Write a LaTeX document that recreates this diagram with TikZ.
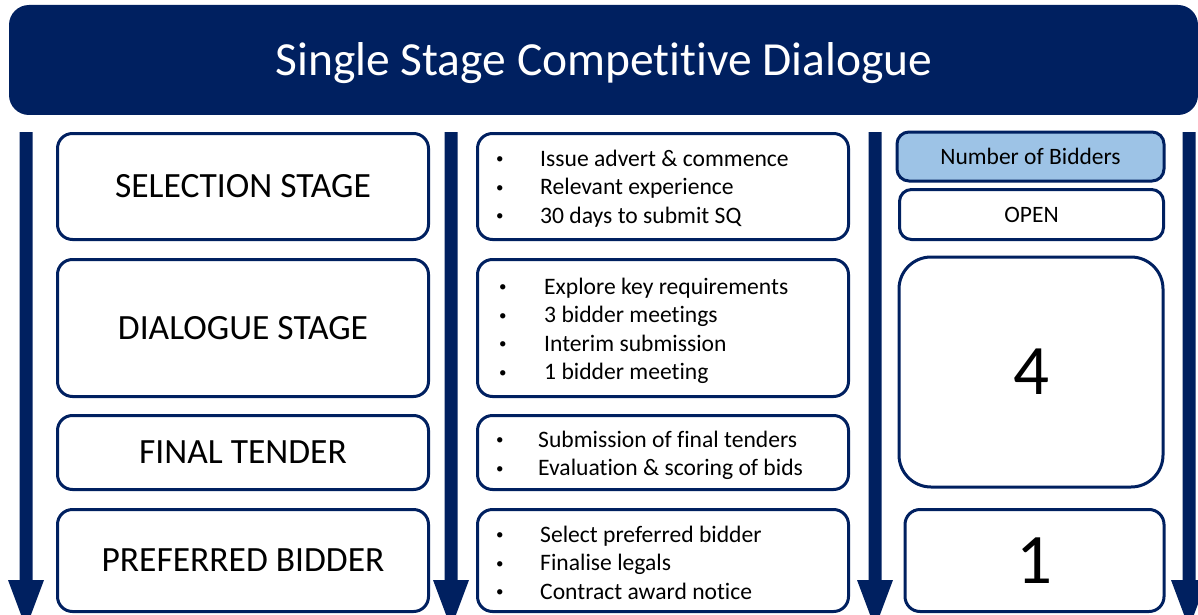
\documentclass[tikz,border=0pt]{standalone}
\usepackage{fontspec}
\setmainfont{Carlito}[Ligatures=NoCommon]
\usetikzlibrary{arrows.meta}
\definecolor{navy}{HTML}{002060}
\definecolor{paleblue}{HTML}{9DC3E6}

% small list bullet
\newcommand{\dotmark}{\raisebox{2.5pt}{\fontsize{15}{15}\selectfont •}}
% bullet list: first column holds the bullet, second the text
\newcommand{\bulletlist}[2]{%
  \fontsize{23.6}{28.5}\selectfont
  \begin{tabular}{@{}p{#1pt}@{}l@{}}#2\end{tabular}}

\begin{document}
\begin{tikzpicture}[x=1pt,y=-1pt,
  panel/.style={draw=navy, line width=3pt, rounded corners=15pt, fill=white,
    inner sep=0pt, align=center, text=black},
  stagebox/.style={panel, minimum width=371pt, font=\fontsize{35.5}{42}\selectfont},
  listbox/.style={panel, minimum width=371pt},
  listtext/.style={anchor=west, inner sep=0pt, text=black},
  smalltext/.style={font=\fontsize{23.5}{28}\selectfont},
  bigdigit/.style={font=\fontsize{71}{80}\selectfont},
  flow/.style={fill=navy}
]
\clip (0,0) rectangle (1198,615);
\fill[white] (0,0) rectangle (1198,615);

% title banner
\node[fill=navy, rounded corners=20pt, minimum width=1189pt, minimum height=110pt,
  inner sep=0pt] (title) at (603.5,60) {};
\node[text=white, font=\fontsize{47.5}{56}\selectfont, inner sep=0pt]
  (titletext) at (604,63) {Single Stage Competitive Dialogue};

% downward flow arrows between the columns
\foreach \n/\cx in {a/26, b/451, c/875, d/1189}{
  \coordinate (\n top) at (\cx,132);
  \fill[flow] (\n top) ++(-6.5,0) -- ++(13,0) -- ++(0,448) -- ++(11.5,0)
    -- (\cx,628) -- ++(-18,-48) -- ++(11.5,0) -- cycle;
}

% stage names
\node[stagebox, minimum height=106pt] (s1) at (243,186.5) {SELECTION STAGE};
\node[stagebox, minimum height=137pt] (s2) at (243,328) {DIALOGUE STAGE};
\node[stagebox, minimum height=74pt]  (s3) at (243,452.5) {FINAL TENDER};
\node[stagebox, minimum height=102pt] (s4) at (243,560.5) {PREFERRED BIDDER};

% activities in each stage
\node[listbox, minimum height=106pt] (m1) at (663,186.5) {};
\node[listbox, minimum height=137pt] (m2) at (663,328) {};
\node[listbox, minimum height=74pt]  (m3) at (663,452.5) {};
\node[listbox, minimum height=102pt] (m4) at (663,560.5) {};

\node[listtext] (l1) at (496,189) {\bulletlist{44}{%
  \dotmark & Issue advert \& commence\\ \dotmark & Relevant experience\\ \dotmark & 30 days to submit SQ}};
\node[listtext] (l2) at (499,331.5) {\bulletlist{45}{%
  \dotmark & Explore key requirements\\ \dotmark & 3 bidder meetings\\ \dotmark & Interim submission\\ \dotmark & 1 bidder meeting}};
\node[listtext] (l3) at (496,456) {\bulletlist{42}{%
  \dotmark & Submission of final tenders\\ \dotmark & Evaluation \& scoring of bids}};
\node[listtext] (l4) at (496,565) {\bulletlist{44}{%
  \dotmark & Select preferred bidder\\ \dotmark & Finalise legals\\ \dotmark & Contract award notice}};

% bidder numbers
\node[panel, smalltext, fill=paleblue, rounded corners=12pt, minimum width=267pt,
  minimum height=49pt] (nb) at (1030.5,156.5) {Number of Bidders};
\node[panel, smalltext, rounded corners=12pt, minimum width=264pt,
  minimum height=50pt] (open) at (1031.5,214.5) {OPEN};
\node[panel, bigdigit, rounded corners=32pt, minimum width=264pt,
  minimum height=230pt] (four) at (1031,372) {4};
\node[panel, bigdigit, rounded corners=15pt, minimum width=259pt,
  minimum height=102pt] (one) at (1034.5,560.5) {1};
\end{tikzpicture}
\end{document}
